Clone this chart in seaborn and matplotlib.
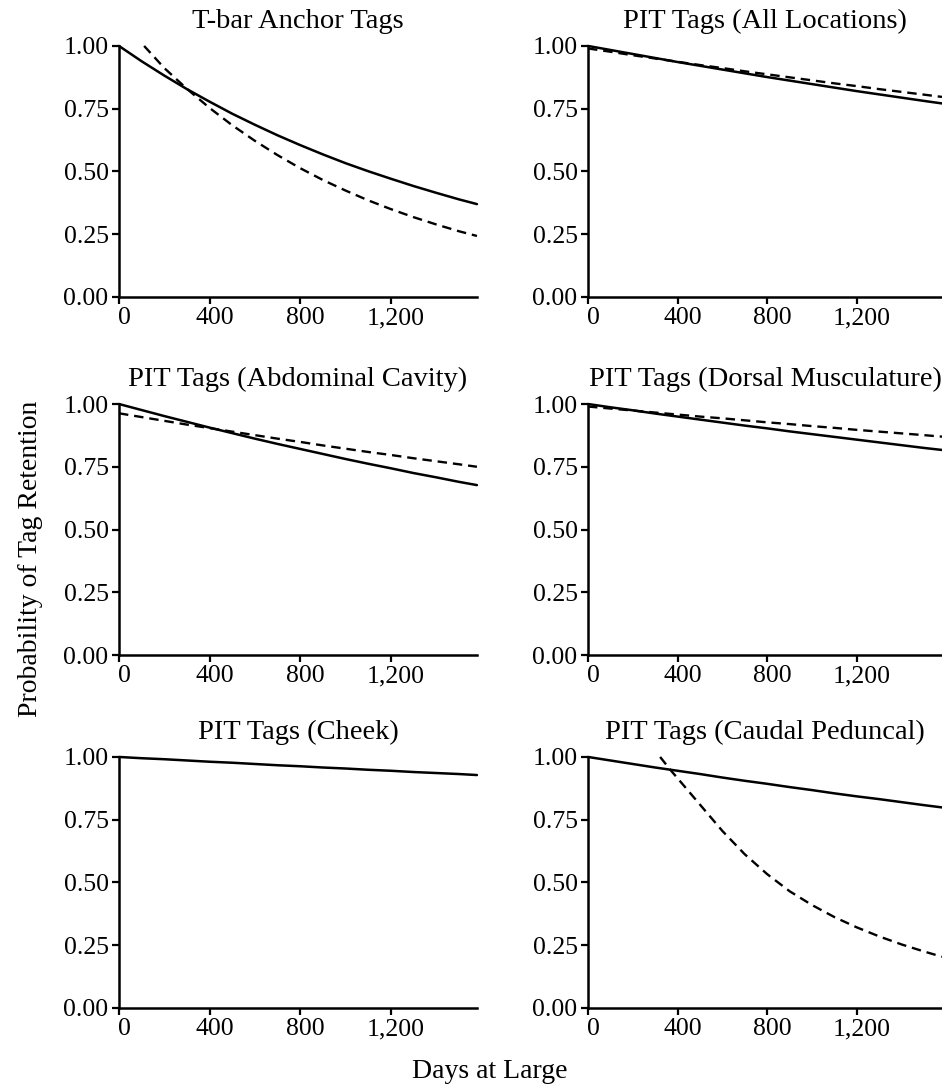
import matplotlib
matplotlib.use("Agg")
import matplotlib.pyplot as plt
import matplotlib.transforms as mtransforms
from matplotlib.ticker import FuncFormatter
import seaborn as sns
import pandas as pd

# panel titles, in reading order
titles = ["T-bar Anchor Tags", "PIT Tags (All Locations)",
          "PIT Tags (Abdominal Cavity)", "PIT Tags (Dorsal Musculature)",
          "PIT Tags (Cheek)", "PIT Tags (Caudal Peduncal)"]

# common day grid for most curves
days = [0, 100, 200, 300, 400, 500, 600, 700, 800, 900, 1000,
        1100, 1200, 1300, 1400, 1500, 1580]

# solid curves
solid_tbar = [1.000, 0.939, 0.882, 0.828, 0.778, 0.730, 0.686, 0.644, 0.605,
              0.568, 0.533, 0.501, 0.471, 0.442, 0.415, 0.389, 0.370]
solid_all = [1.000, 0.984, 0.968, 0.952, 0.936, 0.921, 0.906, 0.891, 0.876,
             0.862, 0.848, 0.834, 0.820, 0.807, 0.794, 0.781, 0.771]
solid_abd = [1.000, 0.976, 0.952, 0.929, 0.906, 0.884, 0.862, 0.841, 0.821,
             0.801, 0.781, 0.762, 0.744, 0.725, 0.708, 0.690, 0.677]
solid_dors = [1.000, 0.987, 0.975, 0.962, 0.950, 0.938, 0.926, 0.914, 0.903,
              0.891, 0.880, 0.869, 0.858, 0.847, 0.836, 0.825, 0.817]
solid_cheek = [1.000, 0.995, 0.991, 0.986, 0.981, 0.977, 0.972, 0.967, 0.963,
               0.958, 0.954, 0.949, 0.945, 0.940, 0.936, 0.932, 0.928]
solid_caud = [1.000, 0.986, 0.972, 0.958, 0.945, 0.932, 0.918, 0.905, 0.893,
              0.880, 0.868, 0.855, 0.843, 0.832, 0.820, 0.808, 0.799]

# dashed curves
dash_tbar_days = [111, 200, 300, 400, 500, 600, 700, 800, 900, 1000,
                  1100, 1200, 1300, 1400, 1500, 1580]
dash_tbar = [1.000, 0.912, 0.829, 0.753, 0.684, 0.622, 0.565, 0.513, 0.466,
             0.424, 0.385, 0.350, 0.318, 0.289, 0.262, 0.243]
dash_all = [0.990, 0.977, 0.963, 0.950, 0.937, 0.924, 0.912, 0.899, 0.887,
            0.875, 0.863, 0.851, 0.840, 0.828, 0.817, 0.806, 0.797]
dash_abd = [0.963, 0.948, 0.933, 0.918, 0.904, 0.890, 0.876, 0.862, 0.849,
            0.835, 0.822, 0.809, 0.797, 0.784, 0.772, 0.760, 0.750]
dash_dors = [0.990, 0.982, 0.974, 0.966, 0.958, 0.950, 0.943, 0.935, 0.927,
             0.920, 0.912, 0.905, 0.897, 0.890, 0.883, 0.876, 0.870]
dash_caud_days = [322, 369, 400, 500, 600, 700, 800, 900, 1000, 1100,
                  1200, 1300, 1400, 1500, 1580]
dash_caud = [1.000, 0.947, 0.915, 0.810, 0.705, 0.612, 0.533, 0.465, 0.410,
             0.362, 0.321, 0.285, 0.253, 0.225, 0.204]

solids = [solid_tbar, solid_all, solid_abd, solid_dors, solid_cheek, solid_caud]
dashed = [(dash_tbar_days, dash_tbar), (days, dash_all), (days, dash_abd),
          (days, dash_dors), None, (dash_caud_days, dash_caud)]

x_ticks = [0, 400, 800, 1200]
y_ticks = [0.00, 0.25, 0.50, 0.75, 1.00]

sns.set_theme(style="ticks")
plt.rcParams["font.family"] = ["Liberation Serif", "DejaVu Serif"]
plt.rcParams["text.color"] = "black"

fig = plt.figure(figsize=(9.42, 10.89), dpi=100)

lefts = [0.1263, 0.6242]
widths = [0.380, 0.3758]
bottoms = [0.7273, 0.3985, 0.0744]
height = 0.2305

for i, title in enumerate(titles):
    r, c = divmod(i, 2)
    ax = fig.add_axes([lefts[c], bottoms[r], widths[c], height])
    df = pd.DataFrame({"day": days, "p": solids[i]})
    sns.lineplot(data=df, x="day", y="p", ax=ax, color="black", linewidth=1.8,
                 clip_on=False)
    if dashed[i] is not None:
        d = pd.DataFrame({"day": dashed[i][0], "p": dashed[i][1]})
        sns.lineplot(data=d, x="day", y="p", ax=ax, color="black", linewidth=1.7,
                     linestyle=(0, (4, 2.5)), clip_on=False)
    ax.set_xlim(0, 1580)
    ax.set_ylim(0, 1)
    ax.set_xticks(x_ticks)
    ax.set_yticks(y_ticks)
    ax.xaxis.set_major_formatter(FuncFormatter(lambda v, p: f"{int(v):,}"))
    ax.yaxis.set_major_formatter(FuncFormatter(lambda v, p: f"{v:.2f}"))
    ax.set_xlabel("")
    ax.set_ylabel("")
    ax.set_title(title, fontsize=20.5, pad=13, color="black")
    sns.despine(ax=ax)
    for s in ["left", "bottom"]:
        ax.spines[s].set_linewidth(1.8)
        ax.spines[s].set_color("black")
    ax.tick_params(axis="both", labelsize=18.5, length=5, width=1.6,
                   colors="black")
    ax.tick_params(axis="x", pad=2.5)
    ax.tick_params(axis="y", pad=2.5)
    off = mtransforms.ScaledTranslation(5 / 100, 0, fig.dpi_scale_trans)
    for lab in ax.get_xticklabels():
        lab.set_transform(lab.get_transform() + off)

fig.text(0.032, 0.487, "Probability of Tag Retention", rotation=90,
         ha="center", va="center", fontsize=20)
fig.text(0.520, 0.016, "Days at Large", ha="center", va="center", fontsize=20)

fig.savefig("out.png", dpi=100, facecolor="white")
